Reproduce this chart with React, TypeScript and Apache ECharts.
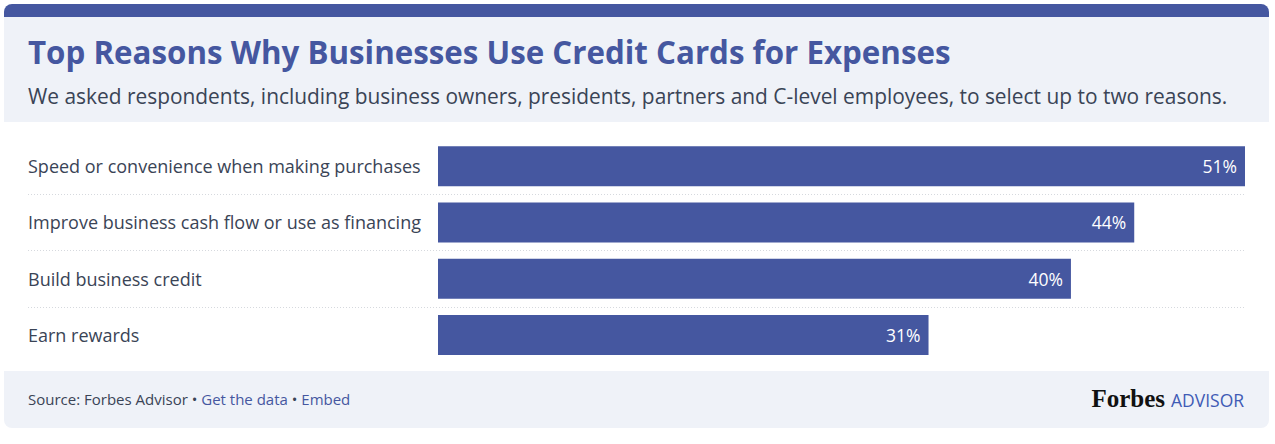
import React, { useEffect, useRef } from "react";
import * as echarts from "echarts";

const categories = [
  "Speed or convenience when making purchases",
  "Improve business cash flow or use as financing",
  "Build business credit",
  "Earn rewards",
];
const values = [51, 44, 40, 31];

const TITLE = "Top Reasons Why Businesses Use Credit Cards for Expenses";
const SUBTITLE =
  "We asked respondents, including business owners, presidents, partners and C-level employees, to select up to two reasons.";

const BLUE = "#4557a0";
const DARK = "#3a4456";
const FONT = "'Open Sans'";

export default function App() {
  const ref = useRef<HTMLDivElement>(null);
  useEffect(() => {
    document.body.style.margin = "0";
    const chart = echarts.init(ref.current!, null, { renderer: "svg" });
    chart.setOption({
      animation: false,
      textStyle: { fontFamily: FONT },
      graphic: [
        { type: "rect", z: -10, shape: { x: 4, y: 4, width: 1265, height: 20, r: [8, 8, 0, 0] }, style: { fill: BLUE } },
        { type: "rect", z: -9, shape: { x: 4, y: 17, width: 1265, height: 105 }, style: { fill: "#eff2f8" } },
        { type: "rect", z: -9, shape: { x: 4, y: 371, width: 1265, height: 57, r: [0, 0, 8, 8] }, style: { fill: "#eff2f8" } },
        {
          type: "text", x: 28, y: 52,
          style: { text: TITLE, fill: BLUE, font: `700 31.3px ${FONT}`, textVerticalAlign: "middle" },
        },
        {
          type: "text", x: 28, y: 96,
          style: { text: SUBTITLE, fill: DARK, font: `400 20.9px ${FONT}`, textVerticalAlign: "middle" },
        },
        {
          type: "text", x: 28, y: 399,
          style: {
            text: "Source: Forbes Advisor • {b|Get the data} • {b|Embed}",
            fill: DARK,
            font: `400 15px ${FONT}`,
            textVerticalAlign: "middle",
            rich: { b: { fill: BLUE, font: `400 15px ${FONT}` } },
          },
        },
        {
          type: "text", x: 1165, y: 398,
          style: { text: "Forbes", fill: "#111", font: `700 25px "Liberation Serif"`, textAlign: "right", textVerticalAlign: "middle" },
        },
        {
          type: "text", x: 1171, y: 400,
          style: { text: "ADVISOR", fill: "#3f5bb5", font: `400 17.5px ${FONT}`, textVerticalAlign: "middle" },
        },
      ],
      grid: [
        { left: 438, right: 30, top: 138, height: 225, containLabel: false },
        { left: 28, right: 30, top: 138, height: 225, containLabel: false },
      ],
      xAxis: [
        { type: "value", gridIndex: 0, min: 0, max: 51, show: false },
        { type: "value", gridIndex: 1, min: 0, max: 51, show: false },
      ],
      yAxis: [
        {
          type: "category", gridIndex: 0, data: categories, inverse: true,
          axisLine: { show: false }, axisTick: { show: false }, splitLine: { show: false },
          axisLabel: { align: "left", margin: 410, color: DARK, fontSize: 18, fontFamily: FONT },
        },
        {
          type: "category", gridIndex: 1, data: categories, inverse: true,
          axisLine: { show: false }, axisTick: { show: false }, axisLabel: { show: false },
          splitLine: { show: true, showMinLine: false, showMaxLine: false, lineStyle: { color: "#d6d9de", type: [1, 2], width: 1 } },
        },
      ],
      series: [
        {
          type: "bar", xAxisIndex: 0, yAxisIndex: 0, data: values, barWidth: 40,
          itemStyle: { color: BLUE },
          label: {
            show: true, position: "insideRight", distance: 8, color: "#fff", fontSize: 17.5, fontFamily: FONT,
            formatter: (p: any) => `${p.value}%`,
          },
        },
      ],
    });
    return () => chart.dispose();
  }, []);
  return <div ref={ref} style={{ width: 1275, height: 444 }} />;
}
